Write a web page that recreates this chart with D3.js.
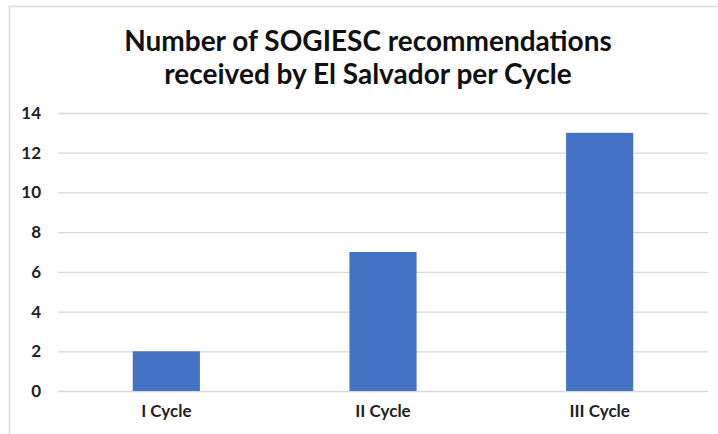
<!DOCTYPE html>
<html>
<head>
<meta charset="utf-8">
<script src="https://cdn.jsdelivr.net/npm/d3@7"></script>
<style>
  body { margin: 0; background: #fff; }
  svg { display: block; font-family: Lato, "Open Sans", sans-serif; }
</style>
</head>
<body>
<div id="main"></div>
<script>
var cycles = ["I Cycle", "II Cycle", "III Cycle"];
var recommendations = [2, 7, 13];
var yTicks = [0, 2, 4, 6, 8, 10, 12, 14];
var titleLines = ["Number of SOGIESC recommendations", "received by El Salvador per Cycle"];

var width = 718, height = 434;
var margin = { top: 113, right: 10, bottom: 43, left: 58 };

var svg = d3.select("#main").append("svg")
  .attr("width", width)
  .attr("height", height);

// chart frame
svg.append("rect")
  .attr("x", 9.5).attr("y", 6.5)
  .attr("width", width).attr("height", height)
  .attr("fill", "none")
  .attr("stroke", "#d9d9d9")
  .attr("stroke-width", 1.5);

svg.append("text")
  .attr("text-anchor", "middle")
  .attr("font-weight", 700)
  .attr("font-size", 28)
  .attr("fill", "#111")
  .selectAll("tspan").data(titleLines)
  .enter().append("tspan")
  .attr("x", 368)
  .attr("y", function(d, i) { return 51 + i * 33; })
  .text(function(d) { return d; });

var x = d3.scaleBand()
  .domain(cycles)
  .range([margin.left, width - margin.right])
  .paddingInner(0.69)
  .paddingOuter(0.345);

var y = d3.scaleLinear()
  .domain([0, 14])
  .range([height - margin.bottom, margin.top]);

// gridlines
var yAxis = d3.axisLeft(y)
  .tickValues(yTicks)
  .tickSize(-(width - margin.right - margin.left))
  .tickPadding(17);

var gy = svg.append("g")
  .attr("transform", "translate(" + margin.left + ",0)")
  .call(yAxis);
gy.select(".domain").remove();
gy.selectAll(".tick line").attr("stroke", "#d9d9d9").attr("stroke-width", 1.3);
gy.selectAll(".tick text")
  .attr("font-family", "Lato, sans-serif")
  .attr("font-size", 17)
  .attr("font-weight", 700)
  .attr("fill", "#222");

svg.append("g").selectAll("rect")
  .data(recommendations)
  .enter().append("rect")
  .attr("x", function(d, i) { return x(cycles[i]); })
  .attr("y", function(d) { return y(d); })
  .attr("width", x.bandwidth())
  .attr("height", function(d) { return y(0) - y(d); })
  .attr("fill", "#4472c4");

var xAxis = d3.axisBottom(x).tickSize(0).tickPadding(14);
var gx = svg.append("g")
  .attr("transform", "translate(0," + y(0) + ")")
  .call(xAxis);
gx.select(".domain").remove();
gx.selectAll(".tick text")
  .attr("font-family", "Lato, sans-serif")
  .attr("font-size", 17)
  .attr("font-weight", 700)
  .attr("fill", "#222");
</script>
</body>
</html>
